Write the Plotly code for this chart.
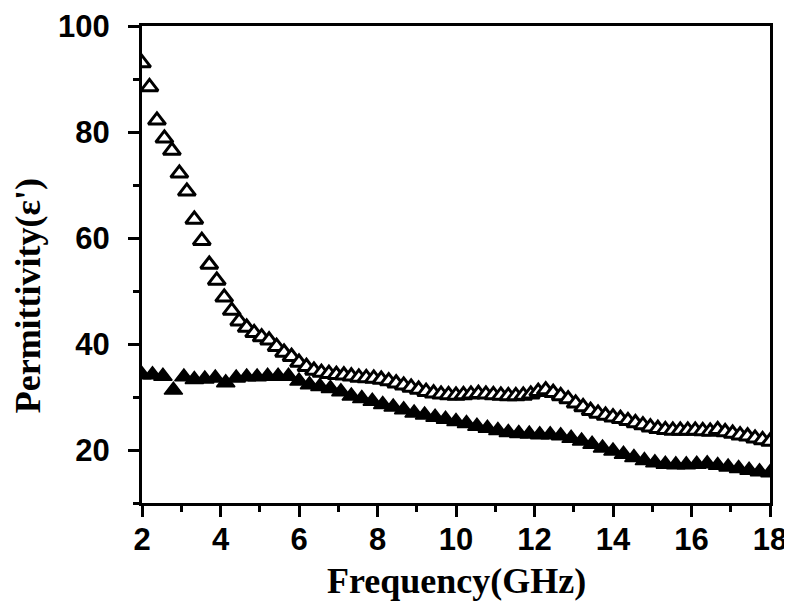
import numpy as np
import plotly.graph_objects as go

# Open triangles (upper series)
open_freq = list(np.round(np.linspace(2, 18, 85), 3))
open_eps = [93.0, 88.5, 82.2, 78.8, 76.5, 72.2, 68.8, 63.5, 59.5, 55.0,
            52.0, 48.8, 46.3, 44.3, 43.1, 42.1, 41.3, 40.7, 39.5, 38.4,
            37.6, 36.5, 35.7, 35.0, 34.6, 34.4, 34.2, 34.1, 33.9, 33.7,
            33.6, 33.5, 33.3, 33.0, 32.6, 32.2, 31.8, 31.4, 31.0, 30.7,
            30.5, 30.4, 30.3, 30.4, 30.5, 30.6, 30.5, 30.4, 30.3, 30.2,
            30.2, 30.3, 30.5, 31.0, 31.3, 30.8, 30.2, 29.6, 28.8, 28.1,
            27.4, 26.9, 26.5, 26.2, 25.9, 25.5, 25.1, 24.7, 24.3, 24.0,
            23.8, 23.7, 23.7, 23.7, 23.7, 23.6, 23.5, 23.8, 23.4, 23.1,
            22.8, 22.6, 22.2, 21.9, 21.6]

# Filled triangles (lower series)
filled_freq = list(np.round(np.linspace(2, 18, 61), 3))
filled_eps = [34.2, 34.2, 33.9, 31.3, 33.8, 33.3, 33.4, 33.6, 32.7, 33.6,
              33.8, 33.8, 33.9, 33.9, 33.9, 33.0, 32.3, 32.0, 31.6, 31.0,
              30.2, 29.7, 29.2, 28.6, 28.1, 27.6, 27.0, 26.6, 26.2, 25.8,
              25.4, 25.0, 24.5, 24.1, 23.7, 23.3, 23.1, 23.0, 22.9, 22.9,
              22.7, 22.2, 21.7, 21.1, 20.4, 19.8, 19.2, 18.6, 18.0, 17.6,
              17.3, 17.2, 17.2, 17.3, 17.4, 17.1, 16.8, 16.5, 16.2, 15.9,
              15.7]

x_ticks = [2, 4, 6, 8, 10, 12, 14, 16, 18]
y_ticks = [20, 40, 60, 80, 100]

fig = go.Figure()
fig.add_trace(go.Scatter(
    x=filled_freq, y=filled_eps, mode="markers",
    marker=dict(symbol="triangle-up", size=16, color="black",
                line=dict(color="black", width=1.5)),
    showlegend=False, cliponaxis=True))
fig.add_trace(go.Scatter(
    x=open_freq, y=open_eps, mode="markers",
    marker=dict(symbol="triangle-up", size=15, color="white",
                line=dict(color="black", width=3)),
    showlegend=False, cliponaxis=True))

tickfont = dict(family="Liberation Sans, Arial, sans-serif",
                size=31, color="black", weight="bold")
axis_common = dict(showline=True, linecolor="black", linewidth=3, mirror=True,
                   ticks="outside", tickwidth=3, ticklen=11, tickcolor="black",
                   showgrid=False, zeroline=False, tickfont=tickfont,
                   automargin=False)

fig.update_xaxes(range=[2, 18], tickvals=x_ticks, ticklabelstandoff=-4,
                 minor=dict(dtick=1, ticks="outside", ticklen=6, tickwidth=3,
                            tickcolor="black", showgrid=False),
                 **axis_common)
fig.update_yaxes(range=[10, 100], tickvals=y_ticks, ticklabelstandoff=12,
                 minor=dict(dtick=10, ticks="outside", ticklen=6, tickwidth=3,
                            tickcolor="black", showgrid=False),
                 **axis_common)

titlefont = dict(family="Liberation Serif, Times New Roman, serif", size=36,
                 color="black", weight="bold")
fig.add_annotation(text="Frequency(GHz)", xref="paper", yref="paper",
                   x=0.5, y=-0.164, xanchor="center", yanchor="middle",
                   showarrow=False, font=titlefont)
fig.add_annotation(text="Permittivity(ε')", xref="paper", yref="paper",
                   x=-0.181, y=0.434, xanchor="center", yanchor="middle",
                   textangle=-90, showarrow=False, font=titlefont)

# page body adds an 8px offset; compensate so the plot box lands at 142..770 x 26..503
fig.update_layout(width=784, height=599,
                  margin=dict(l=134, r=22, t=18, b=104),
                  plot_bgcolor="white", paper_bgcolor="white")

fig.write_html("out.html")
